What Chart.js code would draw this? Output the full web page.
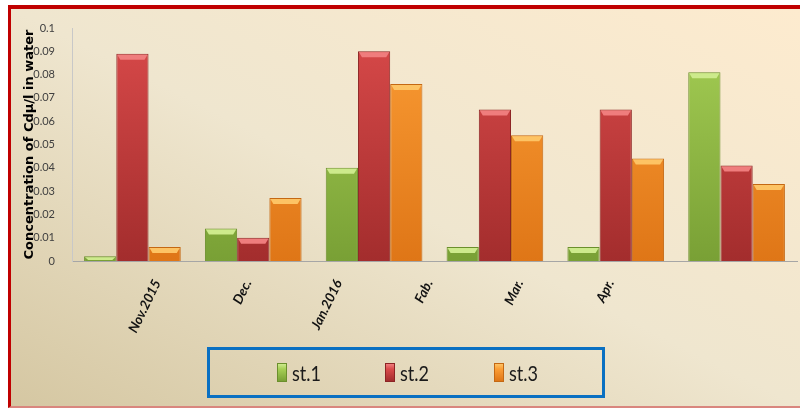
<!DOCTYPE html>
<html>
<head>
<meta charset="utf-8">
<script src="https://cdn.jsdelivr.net/npm/chart.js@4.4.1/dist/chart.umd.min.js"></script>
<style>
body { margin: 0; background: #fff; }
#marco {
  position: absolute; left: 8px; top: 5px; width: 792px; height: 403px;
  box-sizing: border-box;
  border-top: 4px solid #c00000; border-left: 3px solid #c00000; border-bottom: 2px solid #d9867e;
  background: linear-gradient(to top right, #d5c7a2 0%, #efe6cf 50%, #fdebcf 100%);
}
#grafico { position: absolute; left: 0; top: 0; }
#leyenda {
  position: absolute; left: 196px; top: 338px; width: 398px; height: 51px;
  box-sizing: border-box; border: 3px solid #0a70c2;
  display: flex; align-items: center; padding-left: 67px;
}
.item { width: 111px; display: flex; align-items: center; font-family: Lato, sans-serif; font-size: 22px; color: #1a1a1a; }
.item span.txt { display: inline-block; transform: scaleX(0.82); transform-origin: left center; }
.caja { width: 10px; height: 19px; margin-right: 5px; box-sizing: border-box; }
</style>
</head>
<body>
<div id="marco">
  <canvas id="grafico" width="789" height="397"></canvas>
  <div id="leyenda"></div>
</div>
<script>
// Datos: concentración de Cd (µ/l) en agua
const meses = ['Nov.2015', 'Dec.', 'Jan.2016', 'Fab.', 'Mar.', 'Apr.'];
const st1 = [0.002, 0.014, 0.040, 0.006, 0.006, 0.081];
const st2 = [0.089, 0.010, 0.090, 0.065, 0.065, 0.041];
const st3 = [0.006, 0.027, 0.076, 0.054, 0.044, 0.033];
const estaciones = ['st.1', 'st.2', 'st.3'];

// Colores: claro, oscuro, borde, brillo
const colores = [
  ['#a6cf55', '#79a035', '#6b8f2c', '#cdea8c'],
  ['#d94a4a', '#a32d2d', '#8c2424', '#ef7d7d'],
  ['#fb9d35', '#df7617', '#c46813', '#fdc364']
];

function degradado(claro, oscuro) {
  return (c) => {
    const area = c.chart.chartArea;
    if (!area) return oscuro;
    const g = c.chart.ctx.createLinearGradient(0, area.top, 0, area.bottom);
    g.addColorStop(0, claro);
    g.addColorStop(1, oscuro);
    return g;
  };
}

// Brillo en la parte superior de cada barra
const bisel = {
  id: 'bisel',
  afterDatasetsDraw(chart) {
    const ctx = chart.ctx;
    chart.data.datasets.forEach((ds, i) => {
      chart.getDatasetMeta(i).data.forEach(bar => {
        const { x, y, base, width } = bar.getProps(['x', 'y', 'base', 'width'], true);
        const alto = Math.min(6, base - y - 1);
        if (alto <= 0) return;
        const izq = x - width / 2, der = x + width / 2;
        ctx.save();
        ctx.fillStyle = ds.brillo;
        ctx.beginPath();
        ctx.moveTo(izq + 1, y + 1);
        ctx.lineTo(der - 1, y + 1);
        ctx.lineTo(der - 4, y + alto);
        ctx.lineTo(izq + 4, y + alto);
        ctx.closePath();
        ctx.fill();
        ctx.restore();
      });
    });
  }
};

const series = [st1, st2, st3];
const datasets = series.map((valores, i) => ({
  label: estaciones[i],
  data: valores,
  backgroundColor: degradado(colores[i][0], colores[i][1]),
  borderColor: colores[i][2],
  borderWidth: 1,
  brillo: colores[i][3],
  xAxisID: 'x',
  categoryPercentage: 0.8,
  barPercentage: 1.0
}));

const fuente = 'Lato, sans-serif';

new Chart(document.getElementById('grafico').getContext('2d'), {
  type: 'bar',
  data: { labels: meses, datasets },
  plugins: [bisel],
  options: {
    responsive: false,
    animation: false,
    devicePixelRatio: 1,
    layout: { padding: { top: 19, right: 3, left: 0, bottom: 0 } },
    plugins: { legend: { display: false }, tooltip: { enabled: false } },
    scales: {
      x: {
        type: 'category',
        grid: { display: false },
        border: { display: true, color: '#a6a6a6' },
        ticks: { display: false },
        afterFit: (s) => { s.height = 0; }
      },
      etiquetas: {
        type: 'category',
        position: 'bottom',
        labels: meses.concat(['', '']),
        offset: true,
        grid: { display: false },
        border: { display: false },
        ticks: {
          autoSkip: false,
          minRotation: 64,
          maxRotation: 64,
          padding: 8,
          labelOffset: 40,
          color: '#111',
          font: { family: fuente, size: 13.5, weight: 'bold', style: 'italic' }
        },
        afterFit: (s) => { s.height = 145; }
      },
      y: {
        min: 0,
        max: 0.1,
        grid: { display: false },
        border: { display: true, color: '#c8c8c8' },
        ticks: {
          stepSize: 0.01,
          padding: 9,
          color: '#404040',
          font: { family: fuente, size: 11 },
          callback: (v) => String(+v.toFixed(2))
        },
        title: {
          display: true,
          text: 'Concentration of Cdµ/l in water',
          color: '#000',
          padding: { top: 11, bottom: 0 },
          font: { family: "'DejaVu Sans', sans-serif", size: 13, weight: 'bold' }
        },
        afterFit: (s) => { s.width = 61; }
      }
    }
  }
});

// Leyenda en HTML a partir de los datasets
const leyenda = document.getElementById('leyenda');
estaciones.forEach((nombre, i) => {
  const item = document.createElement('div');
  item.className = 'item';
  const caja = document.createElement('span');
  caja.className = 'caja';
  caja.style.background = `linear-gradient(${colores[i][3]}, ${colores[i][0]} 30%, ${colores[i][1]})`;
  caja.style.border = `1px solid ${colores[i][2]}`;
  const txt = document.createElement('span');
  txt.className = 'txt';
  txt.textContent = nombre;
  item.appendChild(caja);
  item.appendChild(txt);
  leyenda.appendChild(item);
});
</script>
</body>
</html>
